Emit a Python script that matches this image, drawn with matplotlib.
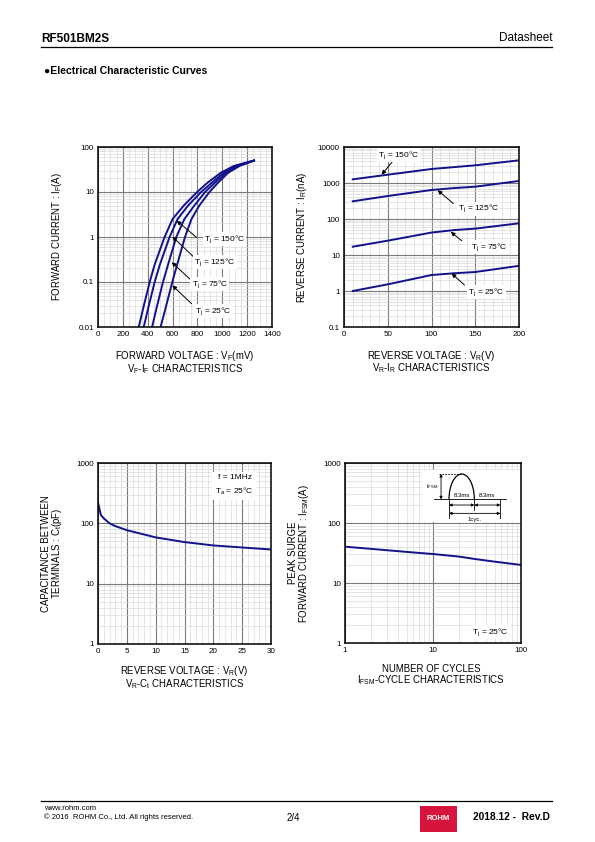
import numpy as np
import matplotlib
matplotlib.use('Agg')
import matplotlib.pyplot as plt
from matplotlib.ticker import MultipleLocator, LogLocator, FuncFormatter, NullFormatter
from matplotlib.patches import Arc, Rectangle

plt.rcParams['font.family'] = ['Liberation Sans', 'DejaVu Sans']
plt.rcParams['mathtext.fontset'] = 'custom'
plt.rcParams['mathtext.rm'] = 'Liberation Sans'
plt.rcParams['mathtext.it'] = 'Liberation Sans'

# VF-IF characteristics (mV, A)
if_pts = [0.01, 0.03, 0.1, 0.24, 1, 2.5, 5, 10, 16, 27, 38, 50]
vf_150 = [328, 369, 416, 455, 536, 600, 690, 798, 880, 990, 1094, 1255]
vf_125 = [368, 409, 456, 497, 576, 640, 725, 830, 915, 1011, 1110, 1255]
vf_75 = [435, 476, 523, 563, 630, 695, 775, 862, 940, 1030, 1125, 1255]
vf_25 = [504, 549, 598, 636, 700, 752, 815, 897, 965, 1049, 1140, 1255]

# VR-IR characteristics (V, nA)
vr_pts = [10, 50, 100, 125, 150, 200]
ir_150 = [1265, 1700, 2450, 2750, 3100, 4260]
ir_125 = [310, 435, 640, 720, 790, 1140]
ir_75 = [17, 25, 42, 49, 54, 76]
ir_25 = [1.0, 1.53, 2.78, 3.1, 3.37, 5.0]

# VR-Ct characteristics (V, pF)
vr_ct = [0.05, 0.5, 1, 2, 3, 5, 10, 15, 20, 25, 30]
ct = [210, 137, 121, 100, 90, 77, 58.5, 48.9, 43, 39.8, 36.9]

# IFSM-cycle characteristics
cycles = [1, 2, 5, 10, 20, 30, 50, 100]
ifsm = [40.3, 37, 33, 30.4, 27.5, 25.1, 22.7, 20]

W, H = 595, 842
CURVE = '#12128a'
fig = plt.figure(figsize=(W / 100, H / 100), dpi=100)


def px_axes(l, t, r, b):
    return fig.add_axes([l / W, 1 - b / H, (r - l) / W, (b - t) / H])


def ftext(x, y, s, **kw):
    kw.setdefault('ha', 'center')
    kw.setdefault('va', 'center')
    fig.text(x / W, 1 - y / H, s, **kw)


def style(ax):
    for s in ax.spines.values():
        s.set_linewidth(1.1)
    ax.tick_params(which='both', length=0, labelsize=5.8, pad=3)
    ax.grid(which='major', color='#7a7a7a', lw=0.8)
    ax.grid(which='minor', color='#d6d6d6', lw=0.45)
    ax.set_axisbelow(True)


def log_y(ax, lo, hi):
    ax.set_yscale('log')
    ax.set_ylim(lo, hi)
    ax.yaxis.set_major_locator(LogLocator(base=10, numticks=12))
    ax.yaxis.set_minor_locator(LogLocator(base=10, subs=np.arange(2, 10), numticks=12))
    ax.yaxis.set_major_formatter(FuncFormatter(lambda v, p: '%g' % v))
    ax.yaxis.set_minor_formatter(NullFormatter())


def arrow(ax, tail, tip):
    ax.annotate('', xy=tip, xytext=tail,
                arrowprops=dict(arrowstyle='-|>', color='k', lw=0.7,
                                mutation_scale=6, shrinkA=0, shrinkB=0))


lab_kw = dict(fontsize=6, ha='center', va='center',
              bbox=dict(fc='white', ec='none', pad=0.8))

# ---- VF-IF ----
ax1 = px_axes(98, 147, 272, 327)
style(ax1)
log_y(ax1, 0.01, 100)
ax1.set_xlim(0, 1400)
ax1.xaxis.set_major_locator(MultipleLocator(200))
ax1.xaxis.set_minor_locator(MultipleLocator(50))
for v in (vf_150, vf_125, vf_75, vf_25):
    ax1.plot(v, if_pts, color=CURVE, lw=1.4)
arrow(ax1, (793, 0.98), (633, 2.3))
arrow(ax1, (767, 0.367), (598, 1.02))
arrow(ax1, (740, 0.1156), (593, 0.275))
arrow(ax1, (753, 0.0329), (598, 0.0837))
ax1.text(1020, 0.887, r'T$_{\rm j}$ = 150°C', **lab_kw)
ax1.text(940, 0.284, r'T$_{\rm j}$ = 125°C', **lab_kw)
ax1.text(900, 0.091, r'T$_{\rm j}$ = 75°C', **lab_kw)
ax1.text(927, 0.0222, r'T$_{\rm j}$ = 25°C', **lab_kw)

# ---- VR-IR ----
ax2 = px_axes(344, 147, 519, 327)
style(ax2)
log_y(ax2, 0.1, 10000)
ax2.set_xlim(0, 200)
ax2.xaxis.set_major_locator(MultipleLocator(50))
ax2.xaxis.set_minor_locator(MultipleLocator(10))
for v in (ir_150, ir_125, ir_75, ir_25):
    ax2.plot(vr_pts, v, color=CURVE, lw=1.4)
arrow(ax2, (56, 4090), (43, 1710))
arrow(ax2, (125, 268), (107, 630))
arrow(ax2, (134.6, 24.8), (122, 44))
arrow(ax2, (137.7, 1.46), (123, 3.08))
ax2.text(62, 5870, r'T$_{\rm j}$ = 150°C', **lab_kw)
ax2.text(153.7, 195, r'T$_{\rm j}$ = 125°C', **lab_kw)
ax2.text(166, 16.2, r'T$_{\rm j}$ = 75°C', **lab_kw)
ax2.text(163, 0.955, r'T$_{\rm j}$ = 25°C', **lab_kw)

# ---- VR-Ct ----
ax3 = px_axes(98, 463, 271, 644)
style(ax3)
log_y(ax3, 1, 1000)
ax3.set_xlim(0, 30)
ax3.xaxis.set_major_locator(MultipleLocator(5))
ax3.xaxis.set_minor_locator(MultipleLocator(1))
ax3.plot(vr_ct, ct, color=CURVE, lw=1.4)
ax3.text(0.79, 0.876, 'f = 1MHz\n' + r'T$_{\rm a}$ = 25°C', transform=ax3.transAxes,
         fontsize=6, ha='center', va='center', multialignment='center', linespacing=1.5,
         bbox=dict(fc='white', ec='none', pad=2.5))

# ---- IFSM-cycles ----
ax4 = px_axes(345, 463, 521, 643)
style(ax4)
log_y(ax4, 1, 1000)
ax4.set_xscale('log')
ax4.set_xlim(1, 100)
ax4.xaxis.set_major_locator(LogLocator(base=10, numticks=5))
ax4.xaxis.set_minor_locator(LogLocator(base=10, subs=np.arange(2, 10), numticks=12))
ax4.xaxis.set_major_formatter(FuncFormatter(lambda v, p: '%g' % v))
ax4.xaxis.set_minor_formatter(NullFormatter())
ax4.plot(cycles, ifsm, color=CURVE, lw=1.4)
ax4.text(44.7, 1.5, r'T$_{\rm j}$ = 25°C', **lab_kw)

# waveform sketch
ins = px_axes(421.7, 470, 520, 521.7)
ins.set_xlim(395, 690)
ins.set_ylim(215, 60)
ins.axis('off')
ins.add_patch(Rectangle((395, 60), 295, 155, fc='white', ec='none'))
lw_i = 0.6
ins.plot([432, 648], [148, 148], color='k', lw=lw_i)
ins.add_patch(Arc((515, 148), 76, 152, theta1=180, theta2=360, color='k', lw=0.9))
ins.plot([448, 515], [72, 72], color='k', lw=lw_i, ls=(0, (2, 1.5)))
for x, y1 in ((477, 205), (553, 180), (631, 205)):
    ins.plot([x, x], [148, y1], color='k', lw=lw_i)
dbl = dict(arrowstyle='<|-|>', color='k', lw=lw_i, mutation_scale=4, shrinkA=0, shrinkB=0)
ins.annotate('', xy=(453, 72), xytext=(453, 148), arrowprops=dbl)
ins.annotate('', xy=(477, 165), xytext=(553, 165), arrowprops=dbl)
ins.annotate('', xy=(553, 165), xytext=(631, 165), arrowprops=dbl)
ins.annotate('', xy=(477, 190), xytext=(631, 190), arrowprops=dbl)
ins.text(425, 110, r'I$_{\rm FSM}$', fontsize=4.3, ha='center', va='center')
ins.text(515, 135, '8.3ms', fontsize=4.3, ha='center', va='center')
ins.text(592, 135, '8.3ms', fontsize=4.3, ha='center', va='center')
ins.text(553, 207, '1cyc.', fontsize=4.3, ha='center', va='center')

# ---- axis labels ----
AL = 6.9
two = dict(fontsize=AL, linespacing=0.9, multialignment='center')
ftext(57.3, 237, r'FORWARD CURRENT : I$_{\rm F}$(A)', fontsize=AL, rotation=90)
ftext(185, 362.5, r'FORWARD VOLTAGE : V$_{\rm F}$(mV)' + '\n' +
      r'V$_{\rm F}$-I$_{\rm F}$ CHARACTERISTICS', **two)

ftext(302.3, 237, r'REVERSE CURRENT : I$_{\rm R}$(nA)', fontsize=AL, rotation=90)
ftext(431, 362, r'REVERSE VOLTAGE : V$_{\rm R}$(V)' + '\n' +
      r'V$_{\rm R}$-I$_{\rm R}$ CHARACTERISTICS', **two)

ftext(52.8, 553.5, 'CAPACITANCE BETWEEN\n' + r'TERMINALS : C$_{\rm t}$(pF)',
      rotation=90, **two)
ftext(184.5, 677.5, r'REVERSE VOLTAGE : V$_{\rm R}$(V)' + '\n' +
      r'V$_{\rm R}$-C$_{\rm t}$ CHARACTERISTICS', **two)

ftext(299.5, 553, 'PEAK SURGE\n' + r'FORWARD CURRENT : I$_{\rm FSM}$(A)',
      rotation=90, **two)
ftext(431, 675.5, 'NUMBER OF CYCLES\n' + r'I$_{\rm FSM}$-CYCLE CHARACTERISTICS', **two)

# ---- header / footer ----
ftext(41, 39, 'RF501BM2S', fontsize=8.5, fontweight='bold', ha='left')
ftext(552, 38, 'Datasheet', fontsize=8.5, ha='right')
fig.add_artist(plt.Line2D([41 / W, 552 / W], [1 - 47 / H, 1 - 47 / H], color='k', lw=0.9))
ftext(44, 71, '●Electrical Characteristic Curves', fontsize=7.5, fontweight='bold', ha='left')

fig.add_artist(plt.Line2D([41 / W, 552 / W], [1 - 801 / H, 1 - 801 / H], color='k', lw=0.9))
ftext(44, 808, 'www.rohm.com', fontsize=5.5, ha='left')
ftext(44, 817, '© 2016  ROHM Co., Ltd. All rights reserved.', fontsize=5.5, ha='left')
ftext(293, 818, '2/4', fontsize=7)
fig.add_artist(Rectangle((420 / W, 1 - 832 / H), 37 / W, 26 / H, transform=fig.transFigure,
                         fc='#d7143c', ec='none'))
ftext(438.5, 818, 'ROHM', fontsize=5.5, fontweight='bold', color='white')
ftext(550, 817, '2018.12 -  Rev.D', fontsize=7.4, fontweight='bold', ha='right')

fig.savefig('out.png', dpi=100)
